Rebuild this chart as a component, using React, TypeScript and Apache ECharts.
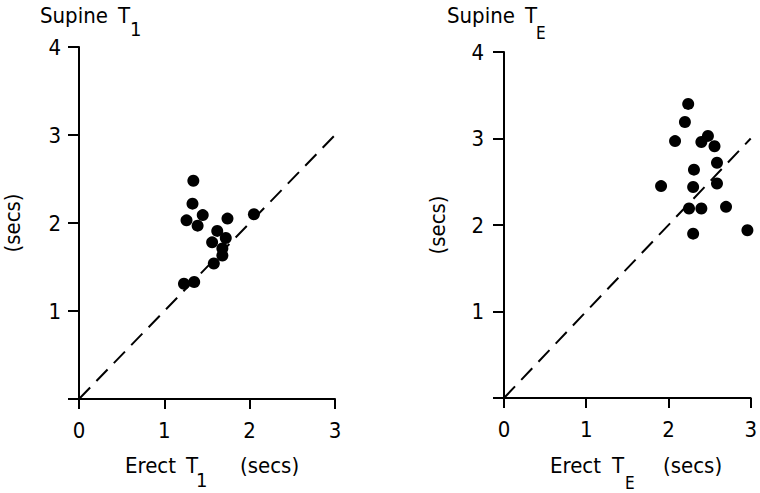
import React, { useEffect, useRef } from "react";
import * as echarts from "echarts";

const xTicks = [0, 1, 2, 3];
const yTicks = [1, 2, 3, 4];
const t1Erect = [1.34, 1.33, 1.45, 1.26, 1.39, 1.74, 2.05, 1.62, 1.72, 1.56, 1.68, 1.68, 1.58, 1.23, 1.35];
const t1Supine = [2.48, 2.22, 2.09, 2.03, 1.97, 2.05, 2.10, 1.91, 1.83, 1.78, 1.71, 1.63, 1.54, 1.31, 1.33];
const teErect = [2.24, 2.2, 2.08, 2.48, 2.4, 2.56, 2.59, 2.31, 1.91, 2.3, 2.59, 2.25, 2.4, 2.7, 2.3, 2.96];
const teSupine = [3.4, 3.19, 2.97, 3.03, 2.96, 2.91, 2.72, 2.64, 2.45, 2.44, 2.48, 2.19, 2.19, 2.21, 1.9, 1.94];
const identityLine = [[0, 0], [3, 3]];

const FONT = "'DejaVu Sans Condensed', 'DejaVu Sans', sans-serif";

export default function App() {
  const ref = useRef<HTMLDivElement>(null);
  useEffect(() => {
    const chart = echarts.init(ref.current!, null, { renderer: "svg" });
    const axisLine = { show: true, lineStyle: { color: "#000", width: 2 } };
    const mkX = (gridIndex: number) => ({
      type: "value",
      gridIndex,
      min: 0,
      max: 3,
      interval: 1,
      axisLine,
      axisTick: { show: true, length: 10, lineStyle: { color: "#000", width: 2 } },
      axisLabel: {
        color: "#000",
        fontSize: 22,
        fontFamily: FONT,
        margin: 20,
        formatter: (v: number) => (xTicks.includes(v) ? String(v) : ""),
      },
      splitLine: { show: false },
    });
    const mkY = (gridIndex: number, gap: number, margin: number) => ({
      type: "value",
      gridIndex,
      min: 0,
      max: 4,
      interval: 1,
      name: "(secs)",
      nameLocation: "middle",
      nameRotate: 90,
      nameGap: gap,
      nameTextStyle: { color: "#000", fontSize: 22, fontFamily: FONT },
      axisLine,
      axisTick: { show: true, length: 11, lineStyle: { color: "#000", width: 2 } },
      axisLabel: {
        color: "#000",
        fontSize: 22,
        fontFamily: FONT,
        margin,
        formatter: (v: number) => (yTicks.includes(v) ? String(v) : ""),
      },
      splitLine: { show: false },
    });
    const dot = { color: "#000", opacity: 1 };
    const dashed = {
      type: "line",
      showSymbol: false,
      symbol: "none",
      lineStyle: { color: "#000", width: 2, type: [16, 9] },
      silent: true,
    };
    const txt = (x: number, y: number, text: string, size = 22) => ({
      type: "text",
      x,
      y,
      style: { text, fill: "#000", fontSize: size, fontFamily: FONT },
    });
    chart.setOption({
      animation: false,
      backgroundColor: "#fff",
      grid: [
        { left: 78, top: 47, width: 257, height: 352 },
        { left: 504, top: 52, width: 255, height: 346 },
      ],
      xAxis: [mkX(0), mkX(1)],
      yAxis: [mkY(0, 56, 18), mkY(1, 56, 20)],
      series: [
        { ...dashed, xAxisIndex: 0, yAxisIndex: 0, data: identityLine },
        { ...dashed, xAxisIndex: 1, yAxisIndex: 1, data: identityLine },
        {
          type: "scatter",
          xAxisIndex: 0,
          yAxisIndex: 0,
          symbolSize: 12,
          itemStyle: dot,
          data: t1Erect.map((v, i) => [v, t1Supine[i]]),
        },
        {
          type: "scatter",
          xAxisIndex: 1,
          yAxisIndex: 1,
          symbolSize: 12,
          itemStyle: dot,
          data: teErect.map((v, i) => [v, teSupine[i]]),
        },
      ],
      graphic: [
        txt(40, 4, "Supine"),
        txt(118, 4, "T"),
        txt(130, 19, "1", 20),
        txt(447, 4, "Supine"),
        txt(525, 4, "T"),
        txt(536, 24, "E", 17),
        txt(125, 454, "Erect"),
        txt(186, 454, "T"),
        txt(196, 470, "1", 20),
        txt(240, 454, "(secs)"),
        txt(550, 454, "Erect"),
        txt(612, 454, "T"),
        txt(625, 474, "E", 17),
        txt(663, 454, "(secs)"),
      ],
    });
    return () => chart.dispose();
  }, []);
  return <div ref={ref} style={{ width: 760, height: 493, position: "absolute", left: 0, top: 0 }} />;
}
